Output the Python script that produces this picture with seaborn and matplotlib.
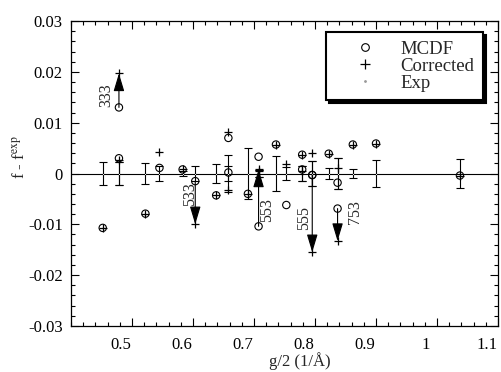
import numpy as np
import pandas as pd
import seaborn as sns
import matplotlib.pyplot as plt
import matplotlib.transforms as mtransforms
from matplotlib.lines import Line2D
from matplotlib.ticker import MultipleLocator

# Si reflections: position g/2, experimental error, MCDF and corrected deviations
reflections = ["422", "333", "511", "440", "531", "620", "533", "444", "551", "711",
               "642", "553", "731", "800", "733", "660", "822", "555", "751", "840",
               "753", "911", "664", "844", "880"]
g_half = [0.452, 0.4786, 0.4786, 0.522, 0.545, 0.583, 0.6037, 0.638, 0.658, 0.658,
          0.690, 0.7075, 0.7075, 0.736, 0.753, 0.779, 0.779, 0.7955, 0.7955, 0.8225,
          0.837, 0.837, 0.862, 0.900, 1.0376]
exp_err = [0.0022, 0.0022, 0.0022, 0.0020, 0.0015, 0.0005, 0.0014, 0.0019, 0.0036, 0.0015,
           0.0050, 0.0007, 0.0007, 0.0034, 0.0012, 0.0015, 0.0015, 0.0024, 0.0024, 0.0010,
           0.0030, 0.0030, 0.0009, 0.0027, 0.0029]
mcdf = [-0.0107, 0.0130, 0.0030, -0.0079, 0.0011, 0.0008, -0.0015, -0.0043, 0.0070, 0.0002,
        -0.0040, -0.0104, 0.0033, 0.0057, -0.0062, 0.0037, 0.0008, -0.0003, -0.0003, 0.0039,
        -0.0069, -0.0018, 0.0057, 0.0059, -0.0004]
corrected = [-0.0107, 0.0197, 0.0027, -0.0079, 0.0042, 0.0008, -0.0100, -0.0043, 0.0082, -0.0033,
             -0.0040, 0.0008, 0.0005, 0.0057, 0.0018, 0.0037, 0.0005, -0.0155, 0.0041, 0.0039,
             -0.0133, 0.0010, 0.0057, 0.0059, -0.0004]

# labelled arrows: reflection, label x, label y
arrow_refl = ["333", "533", "553", "555", "753"]
label_x = [0.458, 0.5956, 0.722, 0.782, 0.866]
label_y = [0.0154, -0.0041, -0.0071, -0.0087, -0.0075]

df = pd.DataFrame({"refl": reflections, "g": g_half, "err": exp_err,
                   "mcdf": mcdf, "corr": corrected})

sns.set_style("ticks")
plt.rcParams["font.family"] = ["Liberation Serif", "DejaVu Serif"]
plt.rcParams["mathtext.fontset"] = "stix"

fig, ax = plt.subplots(figsize=(5.01, 3.72), dpi=100)
fig.subplots_adjust(left=0.1417, right=0.994, bottom=0.1237, top=0.9435)

ax.axhline(0, color="k", lw=0.8, zorder=1)
ax.errorbar(df["g"], np.zeros(len(df)), yerr=df["err"], fmt="none", ecolor="k",
            elinewidth=0.8, capsize=3, capthick=0.8, zorder=2)
sns.scatterplot(x=df["g"], y=np.zeros(len(df)), marker=".", s=2, color="0.6",
                linewidth=0, ax=ax, zorder=2)
sns.scatterplot(data=df, x="g", y="mcdf", marker="o", s=28, facecolor="none",
                edgecolor="k", linewidth=0.8, ax=ax, zorder=3)
sns.scatterplot(data=df, x="g", y="corr", marker="+", s=40, color="k",
                linewidth=0.9, ax=ax, zorder=3)

for r, tx, ty in zip(arrow_refl, label_x, label_y):
    row = df[df["refl"] == r].iloc[0]
    ax.annotate("", xy=(row["g"], row["corr"]), xytext=(row["g"], row["mcdf"]),
                arrowprops=dict(arrowstyle="-|>,head_length=1.1,head_width=0.33",
                                color="k", lw=0.8, shrinkA=0, shrinkB=0,
                                mutation_scale=10), zorder=4)
    ax.text(tx, ty, r, rotation=90, ha="center", va="center", fontsize=11.5,
            family=["Liberation Serif", "DejaVu Serif"])

ax.set_xlim(0.4, 1.1)
ax.set_ylim(-0.03, 0.03)
xt = [0.5, 0.6, 0.7, 0.8, 0.9, 1.0, 1.1]
ax.set_xticks(xt, ["0.5", "0.6", "0.7", "0.8", "0.9", "1", "1.1"])
yt = [-0.03, -0.02, -0.01, 0, 0.01, 0.02, 0.03]
ax.set_yticks(yt, ["-0.03", "-0.02", "-0.01", "0", "0.01", "0.02", "0.03"])
ax.xaxis.set_minor_locator(MultipleLocator(0.02))
ax.yaxis.set_minor_locator(MultipleLocator(0.002))
ax.tick_params(which="both", direction="in", top=True, right=True, width=0.8,
               labelsize=12, colors="k")
ax.tick_params(which="major", length=6)
ax.tick_params(which="minor", length=3)
ax.tick_params(axis="x", pad=8)
ax.tick_params(axis="y", pad=6)
for s in ax.spines.values():
    s.set_linewidth(0.9)
    s.set_color("k")

# tick labels sit slightly left of their ticks in the original
shift = mtransforms.ScaledTranslation(-11 / 100, 0, fig.dpi_scale_trans)
for lab in ax.get_xticklabels():
    lab.set_transform(lab.get_transform() + shift)

ax.set_xlabel("g/2 (1/Å)", fontsize=12)
ax.xaxis.set_label_coords(0.536, -0.085)
ax.set_ylabel("f - f$^{\\rm exp}$", fontsize=12)
ax.yaxis.set_label_coords(-0.1, 0.554)

handles = [
    Line2D([], [], marker="o", ls="none", mfc="none", mec="k", mew=0.8, ms=5.5),
    Line2D([], [], marker="+", ls="none", color="k", mew=0.9, ms=6.5),
    Line2D([], [], marker=".", ls="none", color="0.6", ms=2),
]
leg = ax.legend(handles, ["MCDF", "Corrected", "Exp"], loc="upper right",
                bbox_to_anchor=(0.965, 0.964), borderaxespad=0, fontsize=13.5,
                frameon=True, fancybox=False, edgecolor="k", framealpha=1,
                shadow={"color": "k", "alpha": 1}, borderpad=0.45,
                handlelength=3.3, handletextpad=0.25, labelspacing=0.0)
leg.get_frame().set_linewidth(1.5)

plt.savefig("out.png", dpi=100)
